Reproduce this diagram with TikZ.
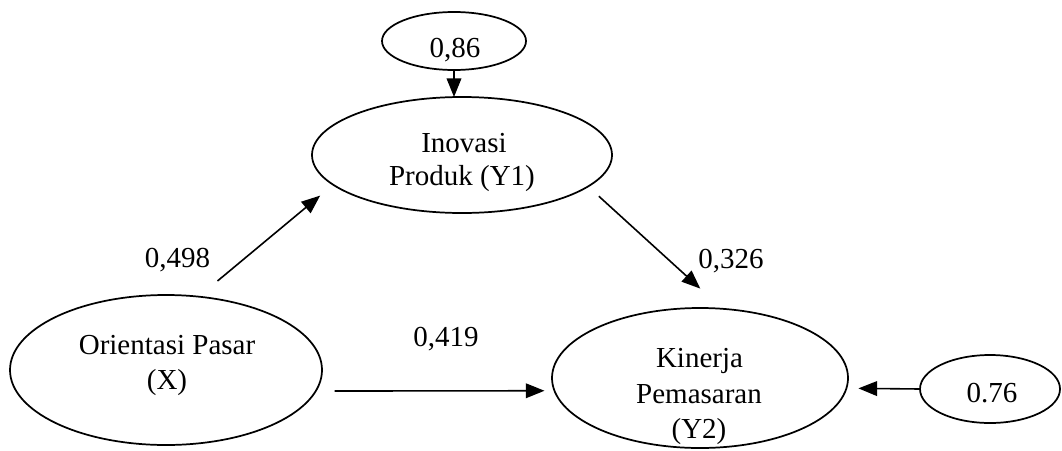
\documentclass[tikz,border=0pt]{standalone}
\usepackage{fontspec}
\setmainfont{Liberation Serif}
\usetikzlibrary{arrows.meta,shapes.geometric}
\begin{document}
\begin{tikzpicture}[x=0.75pt,y=-0.75pt,
  font=\fontsize{21.75}{26}\selectfont,
  latent/.style={draw,ellipse,line width=1.3pt,inner sep=0pt,outer sep=0pt},
  txt/.style={anchor=base,inner sep=0pt},
  path/.style={line width=1.2pt,-{Triangle[length=14pt,width=11pt]}}
]
\useasboundingbox (0,0) rectangle (1062,450);
% ellipses
\node[latent,minimum width=108pt,minimum height=43.5pt] (e1) at (454,41) {};
\node[latent,minimum width=225pt,minimum height=87pt] (in) at (462,155) {};
\node[latent,minimum width=234pt,minimum height=112.5pt] (or) at (166,370) {};
\node[latent,minimum width=222pt,minimum height=105pt] (kp) at (700,378) {};
\node[latent,minimum width=105pt,minimum height=51pt] (e2) at (990,389) {};
% texts
\node[txt] (t1) at (455,57) {0,86};
\node[txt] (t2) at (464,152) {Inovasi};
\node[txt] (t3) at (462,185) {Produk (Y1)};
\node[txt] (t4) at (167,354) {Orientasi Pasar};
\node[txt] (t5) at (167,389) {(X)};
\node[txt] (t6) at (699.5,367) {Kinerja};
\node[txt] (t7) at (699,403) {Pemasaran};
\node[txt] (t8) at (699,438) {(Y2)};
\node[txt] (t9) at (992,402) {0.76};
% coefficients
\node[txt] (c1) at (177.5,267) {0,498};
\node[txt] (c2) at (731,268) {0,326};
\node[txt] (c3) at (446,346) {0,419};
% paths
\draw[path] (e1.south) -- (e1.south |- in.north);
\draw[path,shorten <=18.4pt,shorten >=12.75pt] (or.66.5) -- (in.193.2);
\draw[path,shorten <=10.9pt,shorten >=22.5pt] (in.346.8) -- (kp.72.4);
\draw[path,shorten <=14.25pt,shorten >=7.5pt] (or.-8.4) -- (kp.185.5);
\draw[path,shorten >=9pt] (e2.west) -- (kp.-4.3);
\end{tikzpicture}
\end{document}
